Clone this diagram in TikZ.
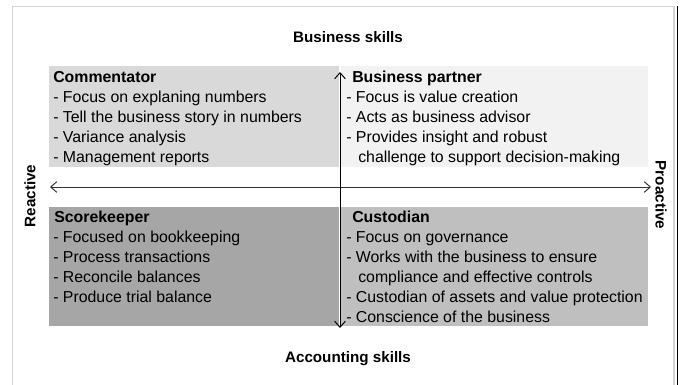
\documentclass[tikz,border=0pt]{standalone}
\usepackage{fontspec}
\setmainfont{Liberation Sans}
\usetikzlibrary{arrows.meta}
\definecolor{tlgray}{HTML}{D9D9D9}
\definecolor{trgray}{HTML}{F2F2F2}
\definecolor{blgray}{HTML}{A6A6A6}
\definecolor{brgray}{HTML}{BFBFBF}
\definecolor{framegray}{HTML}{D4D4D4}
\tikzset{
  txt/.style={anchor=base west, inner sep=0pt, font=\fontsize{11.9}{14}\selectfont},
  head/.style={txt, font=\fontsize{11.9}{14}\selectfont\bfseries},
  axislabel/.style={inner sep=0pt, font=\fontsize{11.4}{14}\selectfont\bfseries},
  biarrow/.style={{Straight Barb[length=4.5pt,width=8pt]}-{Straight Barb[length=4.5pt,width=8pt]}, line width=0.75pt}
}
\begin{document}
\begin{tikzpicture}[x=0.75pt,y=-0.75pt]
\useasboundingbox (0,0) rectangle (681,385);
% frame
\draw[framegray, line width=1pt] (12.5,385) -- (12.5,6.5) -- (674,6.5) -- (674,385);
\draw[black, line width=1.3pt] (677.5,6) -- (677.5,385);
% quadrants
\fill[tlgray] (49,66) rectangle (338.5,167);
\fill[trgray] (341,66) rectangle (648,167);
\fill[blgray] (49,207) rectangle (338.5,326);
\fill[brgray] (341,207) rectangle (648,326);
% axis end points
\coordinate (vtop) at (340,72);
\coordinate (vbot) at (340,328);
\coordinate (hl) at (50,187);
\coordinate (hr) at (651,187);
\draw[biarrow, black!80] (hl) -- (hr);
\draw[biarrow, black] (vbot) -- (vtop);
% axis labels
\node[axislabel, anchor=base] (bs) at (348,42.5) {Business skills};
\node[axislabel, anchor=base] (as) at (348,362.5) {Accounting skills};
\node[axislabel, rotate=90] (re) at (30,196) {Reactive};
\node[axislabel, rotate=-90] (pr) at (661,195) {Proactive};
% Commentator
\node[head] (c0) at (53,82.5) {Commentator};
\node[txt] (c1) at (53,102.5) {- Focus on explaning numbers};
\node[txt] (c2) at (53,122.5) {- Tell the business story in numbers};
\node[txt] (c3) at (53,142.5) {- Variance analysis};
\node[txt] (c4) at (53,162.5) {- Management reports};
% Business partner
\node[head] (b0) at (352,82.5) {Business partner};
\node[txt] (b1) at (346,102.5) {- Focus is value creation};
\node[txt] (b2) at (346,122.5) {- Acts as business advisor};
\node[txt] (b3) at (346,142.5) {- Provides insight and robust};
\node[txt] (b4) at (358,162.5) {challenge to support decision-making};
% Scorekeeper
\node[head] (s0) at (54,222.5) {Scorekeeper};
\node[txt] (s1) at (53,242.5) {- Focused on bookkeeping};
\node[txt] (s2) at (53,262.5) {- Process transactions};
\node[txt] (s3) at (53,282.5) {- Reconcile balances};
\node[txt] (s4) at (53,302.5) {- Produce trial balance};
% Custodian
\node[head] (u0) at (352,222.5) {Custodian};
\node[txt] (u1) at (346,242.5) {- Focus on governance};
\node[txt] (u2) at (346,262.5) {- Works with the business to ensure};
\node[txt] (u3) at (358,282.5) {compliance and effective controls};
\node[txt] (u4) at (346,302.5) {- Custodian of assets and value protection};
\node[txt] (u5) at (346,322.5) {- Conscience of the business};
\end{tikzpicture}
\end{document}
